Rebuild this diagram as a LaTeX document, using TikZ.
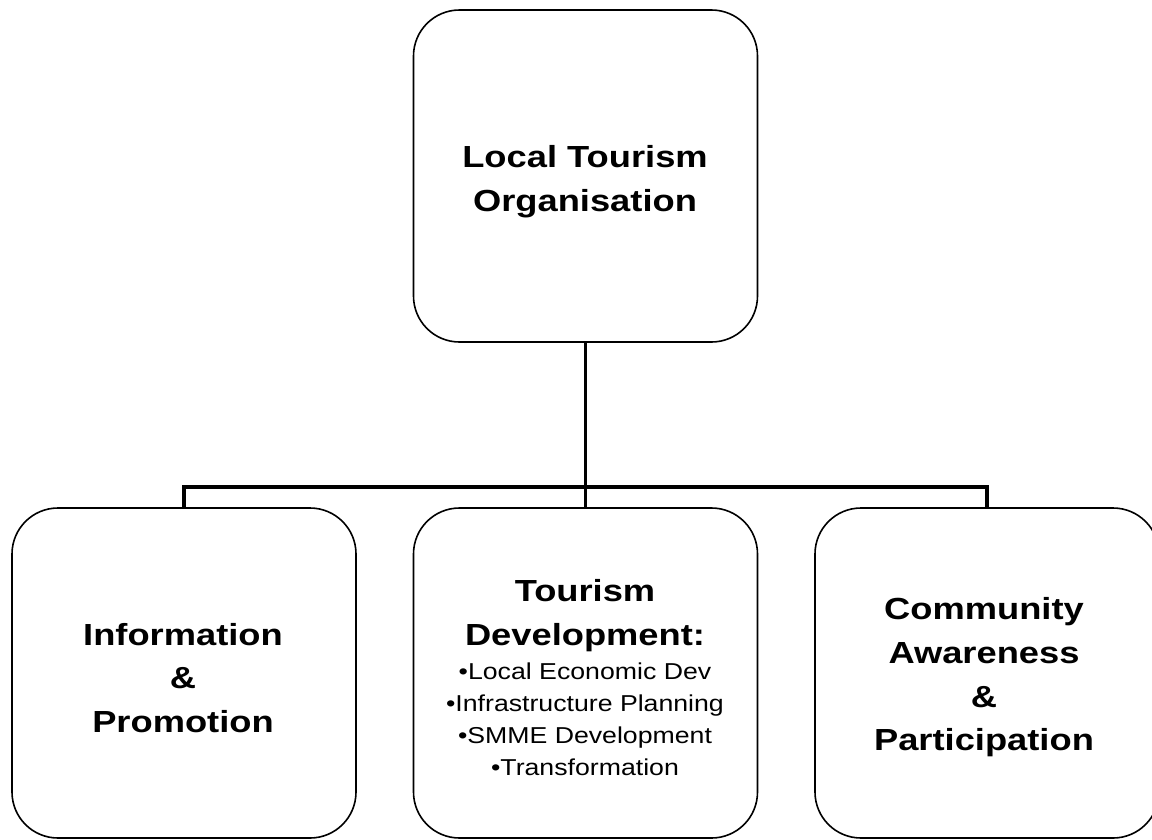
\documentclass[tikz,border=0pt]{standalone}
\usepackage{fontspec}
\usepackage{graphicx}
\newfontfamily\lsans{Liberation Sans}
\newcommand{\wideB}[1]{\scalebox{1.19}[1]{\lsans\bfseries\fontsize{30.5}{43.6}\selectfont\begin{tabular}{@{}c@{}}#1\end{tabular}}}
\newcommand{\wideN}[1]{\scalebox{1.16}[1]{\lsans\fontsize{23}{32}\selectfont\begin{tabular}{@{}c@{}}#1\end{tabular}}}
\begin{document}
\begin{tikzpicture}[x=1pt,y=-1pt,
  box/.style={draw, rounded corners=46pt, minimum width=344pt, inner sep=0pt, line width=1.6pt},
  conn/.style={line width=3.5pt},
  txt/.style={inner sep=0pt}]
\useasboundingbox (0,0) rectangle (1152,839);
\node[box, minimum height=332pt] (top) at (585.5,176) {};
\node[box, minimum height=330pt] (left) at (184,673) {};
\node[box, minimum height=330pt] (mid) at (585.5,673) {};
\node[box, minimum height=330pt] (right) at (987,673) {};
\coordinate (bus) at (585.5,487);
\draw[conn] (top.south) -- (bus);
\draw[conn] (left.north) |- (bus);
\draw[conn] (right.north) |- (bus);
\draw[conn] (mid.north) -- (bus);
\node[txt] (toptxt) at (585,181) {\wideB{Local Tourism\\Organisation}};
\node[txt] (lefttxt) at (183,680) {\wideB{Information\\\&\\Promotion}};
\node[txt] (midtxt) at (585,615) {\wideB{Tourism\\Development:}};
\node[txt] (miditems) at (585,721.5) {\wideN{•Local Economic Dev\\•Infrastructure Planning\\•SMME Development\\•Transformation}};
\node[txt] (righttxt) at (984,676.5) {\wideB{Community\\Awareness\\\&\\Participation}};
\end{tikzpicture}
\end{document}
